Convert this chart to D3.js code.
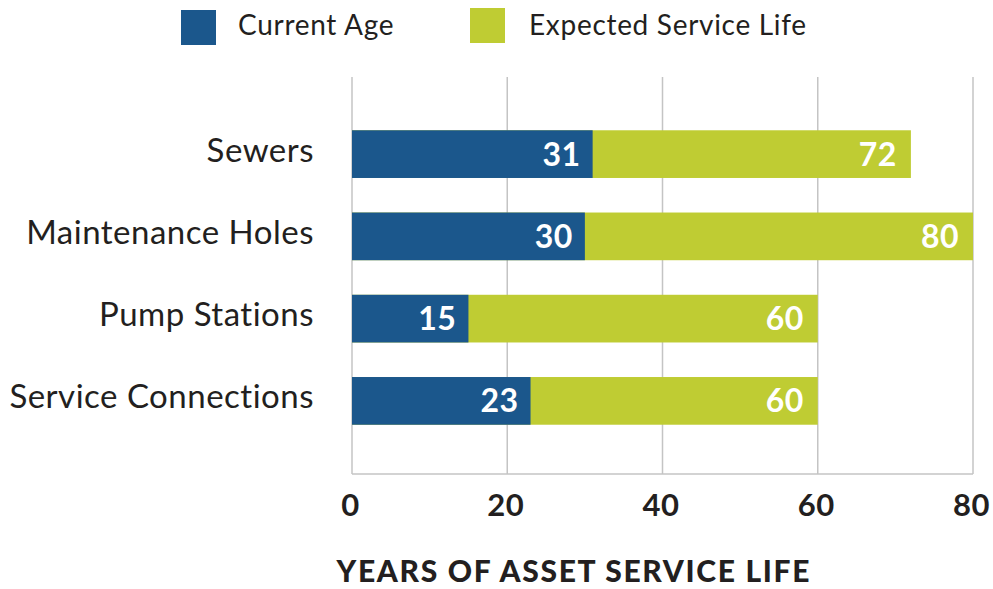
<!DOCTYPE html>
<html>
<head>
<meta charset="utf-8">
<script src="https://cdn.jsdelivr.net/npm/d3@7/dist/d3.min.js"></script>
<style>
  html, body { margin: 0; padding: 0; background: #ffffff; }
  svg { display: block; font-family: Lato, "Open Sans", sans-serif; }
</style>
</head>
<body>
<svg id="chart" width="993" height="589"></svg>
<script>
const categories = ["Sewers", "Maintenance Holes", "Pump Stations", "Service Connections"];
const currentAge = [31, 30, 15, 23];
const expectedLife = [72, 80, 60, 60];
const seriesNames = ["Current Age", "Expected Service Life"];
const seriesColors = ["#1b578c", "#bfcc33"];
const xTicks = [0, 20, 40, 60, 80];
const axisTitle = "YEARS OF ASSET SERVICE LIFE";

const svg = d3.select("#chart");
const plotLeft = 352, plotRight = 973, plotTop = 77, plotBottom = 474;
const ink = "#231f20";

const x = d3.scaleLinear().domain([0, 80]).range([plotLeft, plotRight]);
const y = d3.scaleBand().domain(categories).range([113, 442]).paddingInner(0.42).paddingOuter(0.21);

// gridlines
svg.append("g").selectAll("line").data(xTicks).join("line")
  .attr("x1", d => x(d)).attr("x2", d => x(d))
  .attr("y1", plotTop).attr("y2", plotBottom)
  .attr("stroke", "#c4c4c4").attr("stroke-width", 1.5);
// bottom axis line
svg.append("line").attr("x1", plotLeft).attr("x2", plotRight).attr("y1", plotBottom).attr("y2", plotBottom)
  .attr("stroke", "#c4c4c4").attr("stroke-width", 1.5);

const rows = categories.map((c, i) => ({ c, age: currentAge[i], life: expectedLife[i] }));

// expected life bars (background)
svg.append("g").selectAll("rect").data(rows).join("rect")
  .attr("x", x(0)).attr("y", d => y(d.c))
  .attr("width", d => x(d.life) - x(0)).attr("height", y.bandwidth())
  .attr("fill", seriesColors[1]);
// current age bars
svg.append("g").selectAll("rect").data(rows).join("rect")
  .attr("x", x(0)).attr("y", d => y(d.c))
  .attr("width", d => x(d.age) - x(0)).attr("height", y.bandwidth())
  .attr("fill", seriesColors[0]);

// bar labels
const lab = svg.append("g").attr("fill", "#ffffff").attr("font-weight", 700).attr("font-size", 32)
  .attr("letter-spacing", 0.5).attr("text-anchor", "end");
lab.selectAll("text.age").data(rows).join("text").attr("class", "age")
  .attr("x", d => x(d.age) - 12).attr("y", d => y(d.c) + y.bandwidth() / 2 + 11.5)
  .text(d => d.age);
lab.selectAll("text.life").data(rows).join("text").attr("class", "life")
  .attr("x", d => x(d.life) - 14).attr("y", d => y(d.c) + y.bandwidth() / 2 + 11.5)
  .text(d => d.life);

// category labels
svg.append("g").selectAll("text").data(categories).join("text")
  .attr("x", 314).attr("y", d => y(d) + y.bandwidth() / 2 + 7.5)
  .attr("text-anchor", "end").attr("font-size", 33).attr("letter-spacing", 0.5).attr("fill", ink)
  .text(d => d);

// x axis tick labels
svg.append("g").selectAll("text").data(xTicks).join("text")
  .attr("x", d => x(d) - 1.5).attr("y", 516)
  .attr("text-anchor", "middle").attr("font-size", 31).attr("font-weight", 700)
  .attr("letter-spacing", 0.5).attr("fill", ink)
  .text(d => d);

// axis title
svg.append("text").attr("x", 573).attr("y", 582).attr("text-anchor", "middle")
  .attr("font-size", 30).attr("font-weight", 900).attr("fill", ink)
  .attr("textLength", 473).attr("lengthAdjust", "spacing")
  .text(axisTitle);

// legend
const legendX = [181, 470];
const lg = svg.append("g").selectAll("g").data(seriesNames).join("g")
  .attr("transform", (d, i) => `translate(${legendX[i]},${i === 0 ? 10 : 8})`);
lg.append("rect").attr("width", 35).attr("height", 35).attr("fill", (d, i) => seriesColors[i]);
lg.append("text").attr("x", (d, i) => i === 0 ? 57 : 59).attr("y", (d, i) => i === 0 ? 25 : 27).attr("font-size", 28)
  .attr("letter-spacing", 0.7).attr("fill", ink).text(d => d);
</script>
</body>
</html>
